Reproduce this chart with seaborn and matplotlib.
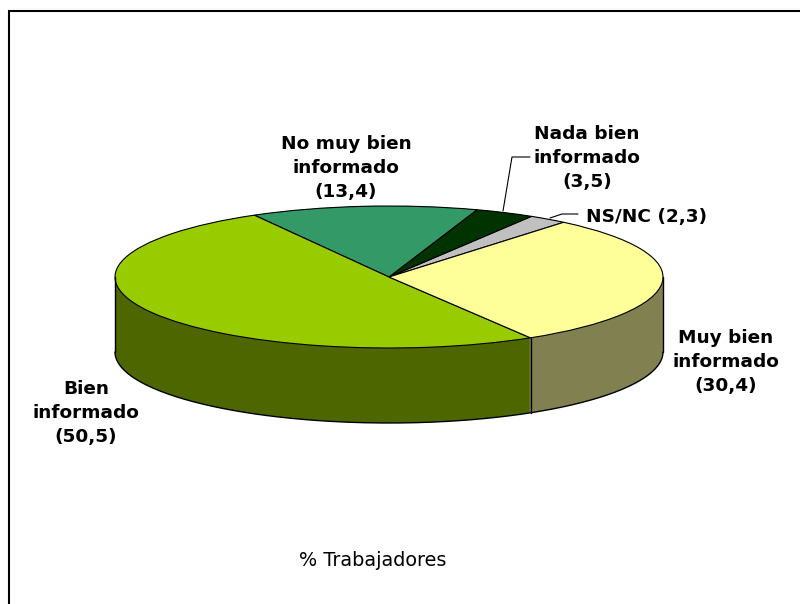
import numpy as np
import seaborn as sns
import matplotlib
matplotlib.use('Agg')
import matplotlib.pyplot as plt

categorias = ['NS/NC', 'Nada bien informado', 'No muy bien informado', 'Bien informado', 'Muy bien informado']
valores = [2.3, 3.5, 13.4, 50.5, 30.4]
colores_top = ['#C0C0C0', '#003300', '#339966', '#99CC00', '#FFFF99']
colores_lado = ['#606060', '#001A00', '#1A4D33', '#4D6600', '#808050']

etiquetas = ['NS/NC (2,3)', 'Nada bien\ninformado\n(3,5)', 'No muy bien\ninformado\n(13,4)',
             'Bien\ninformado\n(50,5)', 'Muy bien\ninformado\n(30,4)']
pos_etiquetas = [(647, 217), (587, 158), (346, 168), (86, 413), (726, 362)]
angulo_inicio = 50.4
titulo = '% Trabajadores'

sns.set_theme(style='white')
plt.rcParams['font.family'] = ['DejaVu Sans']

W, H = 800, 604
fig = plt.figure(figsize=(W / 100, H / 100), dpi=100, facecolor='white')

# capa con coordenadas de pixel: marco, textos y lineas guia
over = fig.add_axes([0, 0, 1, 1], zorder=2)
over.set_xlim(0, W)
over.set_ylim(H, 0)
over.axis('off')
over.patch.set_alpha(0)

# la tarta ocupa la elipse superior
x0, x1, y0, y1 = 115, 663, 206, 348
ax = fig.add_axes([x0 / W, 1 - y1 / H, (x1 - x0) / W, (y1 - y0) / H], zorder=1)
prof = 75 / 71

# lateral: pies apilados de abajo hacia arriba
for d in np.linspace(prof, 0, 160):
    ax.pie(valores, colors=colores_lado, startangle=angulo_inicio, center=(0, -d), radius=1,
           wedgeprops=dict(linewidth=0, clip_on=False))

# contorno inferior y aristas verticales
t = np.radians(np.linspace(180, 360, 200))
ax.plot(np.cos(t), np.sin(t) - prof, color='black', lw=1, clip_on=False)
angs = np.radians(angulo_inicio + np.cumsum(valores) / 100 * 360)
for a in angs:
    if np.sin(a) < 0:
        ax.plot([np.cos(a)] * 2, [np.sin(a), np.sin(a) - prof], color='black', lw=1, clip_on=False)
ax.plot([-1, -1], [0, -prof], color='black', lw=1, clip_on=False)
ax.plot([1, 1], [0, -prof], color='black', lw=1, clip_on=False)

# cara superior
ax.pie(valores, colors=colores_top, startangle=angulo_inicio, center=(0, 0), radius=1,
       wedgeprops=dict(edgecolor='black', linewidth=0.8, clip_on=False))
ax.set_aspect('auto')
ax.set_xlim(-1, 1)
ax.set_ylim(-1, 1)
ax.axis('off')

# marco (sin borde derecho ni inferior)
over.plot([9, 9, W], [H, 11, 11], color='black', lw=1.5, solid_joinstyle='miter')

# lineas guia
over.plot([503, 512, 530], [211, 157, 157], color='black', lw=0.8)
over.plot([550, 562, 578], [218, 214, 214], color='black', lw=0.8)

for txt, (tx, ty) in zip(etiquetas, pos_etiquetas):
    over.text(tx, ty, txt, ha='center', va='center', fontsize=13.3, fontweight='bold',
              color='black', linespacing=1.46, multialignment='center')
over.text(373, 561, titulo, ha='center', va='center', fontsize=13.9, color='black')

fig.savefig('out.png', dpi=100)
